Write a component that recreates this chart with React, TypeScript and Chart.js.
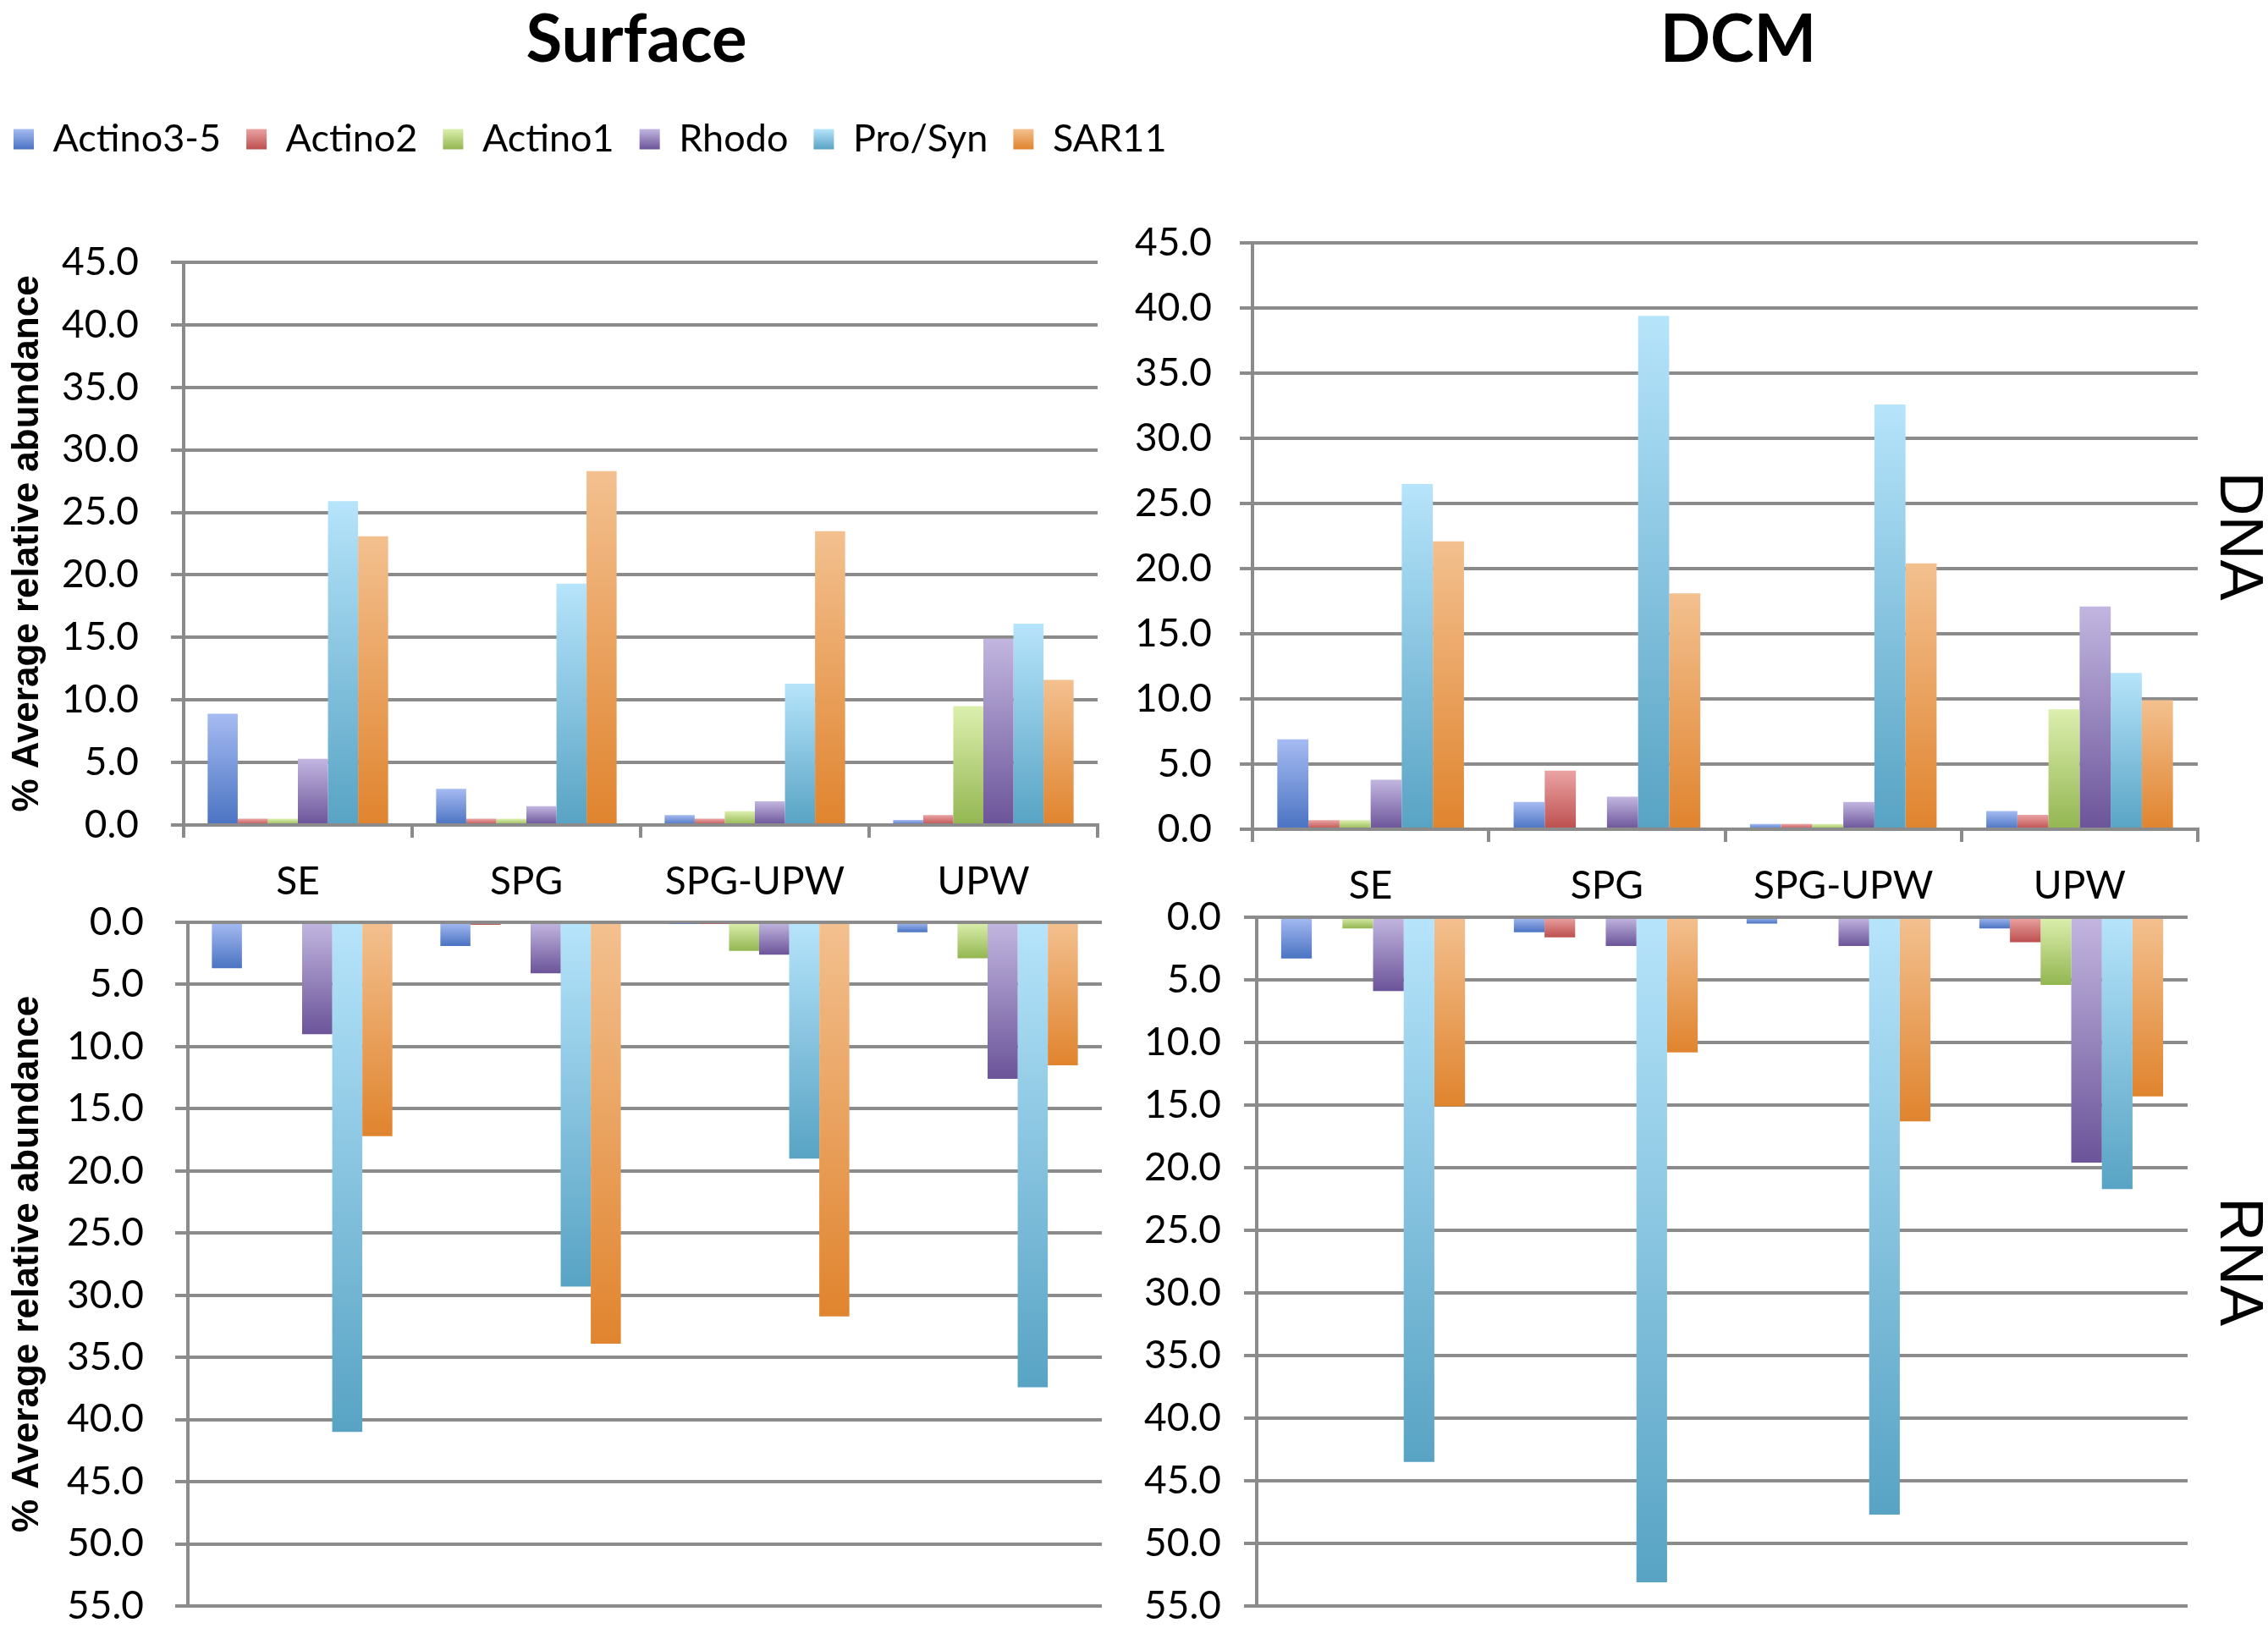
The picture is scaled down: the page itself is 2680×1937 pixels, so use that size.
import { useEffect, useRef } from "react"
import { Chart, registerables } from "chart.js"

Chart.register(...registerables)

const categories = ["SE", "SPG", "SPG-UPW", "UPW"]
const taxa = ["Actino3-5", "Actino2", "Actino1", "Rhodo", "Pro/Syn", "SAR11"]

// rows follow taxa, columns follow categories (% average relative abundance)
const surfaceDNA = [
  [8.9, 2.9, 0.8, 0.4],
  [0.5, 0.5, 0.5, 0.8],
  [0.5, 0.5, 1.1, 9.5],
  [5.3, 1.5, 1.9, 14.9],
  [25.9, 19.3, 11.3, 16.1],
  [23.1, 28.3, 23.5, 11.6],
]
const dcmDNA = [
  [6.9, 2.1, 0.4, 1.4],
  [0.7, 4.5, 0.4, 1.1],
  [0.7, 0, 0.4, 9.2],
  [3.8, 2.5, 2.1, 17.1],
  [26.5, 39.4, 32.6, 12.0],
  [22.1, 18.1, 20.4, 9.9],
]
const surfaceRNA = [
  [3.7, 1.9, 0.1, 0.8],
  [0, 0.2, 0.1, 0],
  [0, 0, 2.3, 2.9],
  [9.0, 4.1, 2.6, 12.6],
  [41.0, 29.3, 19.0, 37.4],
  [17.2, 33.9, 31.7, 11.5],
]
const dcmRNA = [
  [3.3, 1.2, 0.5, 0.9],
  [0, 1.6, 0, 2.0],
  [0.9, 0, 0, 5.4],
  [5.9, 2.3, 2.3, 19.6],
  [43.5, 53.1, 47.7, 21.7],
  [15.1, 10.8, 16.3, 14.3],
]

const dnaTicks = [0, 5, 10, 15, 20, 25, 30, 35, 40, 45]
const rnaTicks = [0, 5, 10, 15, 20, 25, 30, 35, 40, 45, 50, 55]

const lightColors = ["#a6bbf2", "#eba3a3", "#dcefae", "#c2b6e0", "#b6e4fb", "#f3c08f"]
const darkColors = ["#4a73c2", "#bd4f4f", "#93b651", "#6b5499", "#58a3c4", "#e0842e"]
const midColors = ["#7a95dc", "#d37f7f", "#b9d77f", "#9d8cc2", "#7cc4e2", "#eda060"]

const GRID = "#8b8b8b"
const tickFont = { family: "Lato", size: 46 }

const LEGEND_PAD = 30
const LEGEND_FONT = 45
const LEGEND_BOX = 24

// vertical gradient per bar, light at the top and dark at the bottom
const barFill = (i: number) => (ctx: any) => {
  const chart = ctx.chart
  if (ctx.type !== "data" || !chart.chartArea) return midColors[i]
  const y = chart.scales.y
  const a = y.getPixelForValue(ctx.parsed.y)
  const b = y.getPixelForValue(0)
  const top = Math.min(a, b)
  const bottom = Math.max(a, b)
  if (bottom - top < 1) return darkColors[i]
  const g = chart.ctx.createLinearGradient(0, top, 0, bottom)
  g.addColorStop(0, lightColors[i])
  g.addColorStop(1, darkColors[i])
  return g
}

// legend boxes get the same light-to-dark look
const legendLabels = (chart: any) => {
  const items = Chart.defaults.plugins.legend.labels.generateLabels(chart)
  const y0 = LEGEND_PAD + (LEGEND_FONT - LEGEND_BOX) / 2
  return items.map((item: any, i: number) => {
    const g = chart.ctx.createLinearGradient(0, y0, 0, y0 + LEGEND_BOX)
    g.addColorStop(0, lightColors[i])
    g.addColorStop(1, darkColors[i])
    return { ...item, fillStyle: g, lineWidth: 0 }
  })
}

type PanelSpec = {
  values: number[][]
  ticks: number[]
  reverse: boolean
  box: [number, number, number, number]
  yWidth: number
  tickPad: number
  rightWidth: number
  padding: { top?: number; bottom?: number }
  legend?: boolean
  topGap?: number
  yTitle?: boolean
  sideLabel?: string
}

const panels: PanelSpec[] = [
  {
    values: surfaceDNA, ticks: dnaTicks, reverse: false,
    box: [-14, 112, 1460, 973], yWidth: 231, tickPad: 38, rightWidth: 149,
    padding: {}, legend: true, topGap: 113, yTitle: true,
  },
  {
    values: dcmDNA, ticks: dnaTicks, reverse: false,
    box: [1300, 217, 1380, 873], yWidth: 180, tickPad: 33, rightWidth: 83,
    padding: { top: 70 }, sideLabel: "DNA",
  },
  {
    values: surfaceRNA, ticks: rnaTicks, reverse: true,
    box: [-14, 1020, 1324, 948], yWidth: 236, tickPad: 37, rightWidth: 8,
    padding: { top: 70, bottom: 70 }, yTitle: true,
  },
  {
    values: dcmRNA, ticks: rnaTicks, reverse: true,
    box: [1300, 1014, 1380, 954], yWidth: 185, tickPad: 27, rightWidth: 95,
    padding: { top: 70, bottom: 70 }, sideLabel: "RNA",
  },
]

function buildConfig(spec: PanelSpec): any {
  const scales: any = {
    x: spec.reverse
      ? { display: false }
      : {
          offset: true,
          grid: {
            offset: true, drawOnChartArea: false, drawTicks: true,
            tickLength: 15, color: GRID, lineWidth: 4,
          },
          border: { display: true, color: GRID, width: 4 },
          ticks: { font: tickFont, color: "#000", padding: 25, maxRotation: 0, autoSkip: false },
          afterFit: (s: any) => { s.height = 110 },
        },
    y: {
      type: "linear",
      position: "left",
      min: 0,
      max: spec.ticks[spec.ticks.length - 1],
      reverse: spec.reverse,
      afterBuildTicks: (s: any) => { s.ticks = spec.ticks.map((v) => ({ value: v })) },
      ticks: {
        font: tickFont, color: "#000", padding: spec.tickPad,
        callback: (v: any) => Number(v).toFixed(1),
      },
      grid: { color: GRID, lineWidth: 4, drawTicks: true, tickLength: 15 },
      border: { display: true, color: GRID, width: 4 },
      title: {
        display: !!spec.yTitle,
        text: "% Average relative abundance",
        color: "#000",
        font: { family: "Liberation Sans", size: 44, weight: "bold" },
        padding: { top: 20, bottom: 0 },
      },
      afterFit: (s: any) => { s.width = spec.yWidth },
    },
    side: {
      type: "linear",
      position: "right",
      grid: { display: false },
      ticks: { display: false },
      border: { display: false },
      title: {
        display: !!spec.sideLabel,
        text: spec.sideLabel || "",
        color: "#000",
        font: { family: "Liberation Sans", size: 72, lineHeight: 1 },
        padding: 0,
      },
      afterFit: (s: any) => { s.width = spec.rightWidth },
    },
  }
  if (spec.topGap) {
    scales.gap = {
      type: "category",
      position: "top",
      grid: { display: false },
      ticks: { display: false },
      border: { display: false },
      afterFit: (s: any) => { s.height = spec.topGap },
    }
  }

  return {
    type: "bar",
    data: {
      labels: categories,
      datasets: taxa.map((name, i) => ({
        label: name,
        data: spec.values[i],
        backgroundColor: barFill(i),
        borderWidth: 0,
        barPercentage: 1,
        categoryPercentage: 0.79,
        xAxisID: "x",
        yAxisID: "y",
      })),
    },
    options: {
      animation: false,
      responsive: true,
      maintainAspectRatio: false,
      events: [],
      layout: { padding: { top: 0, bottom: 0, left: 0, right: 0, ...spec.padding } },
      plugins: {
        tooltip: { enabled: false },
        title: { display: false },
        legend: {
          display: !!spec.legend,
          position: "top",
          align: "start",
          labels: {
            font: { family: "Lato", size: LEGEND_FONT },
            color: "#000",
            boxWidth: LEGEND_BOX,
            boxHeight: LEGEND_BOX,
            padding: LEGEND_PAD,
            generateLabels: legendLabels,
          },
        },
      },
      scales,
    },
  }
}

function Panel({ spec }: { spec: PanelSpec }) {
  const chartRef = useRef<HTMLCanvasElement>(null)

  useEffect(() => {
    if (!chartRef.current) return
    const chart = new Chart(chartRef.current, buildConfig(spec))
    return () => chart.destroy()
  }, [spec])

  const [left, top, width, height] = spec.box
  return (
    <div style={{ position: "absolute", left, top, width, height }}>
      <canvas ref={chartRef} />
    </div>
  )
}

const headStyle = (center: number): React.CSSProperties => ({
  position: "absolute",
  left: center - 500,
  top: 4,
  width: 1000,
  textAlign: "center",
  fontFamily: "Lato",
  fontWeight: "bold",
  fontSize: 78,
  lineHeight: 1,
  color: "#000",
})

export default function App() {
  return (
    <div
      style={{
        position: "absolute", left: 0, top: 0, width: 2680, height: 1937,
        overflow: "hidden", background: "#fff",
      }}
    >
      <div style={headStyle(752)}>Surface</div>
      <div style={headStyle(2054)}>DCM</div>
      {panels.map((p, i) => (
        <Panel key={i} spec={p} />
      ))}
    </div>
  )
}
